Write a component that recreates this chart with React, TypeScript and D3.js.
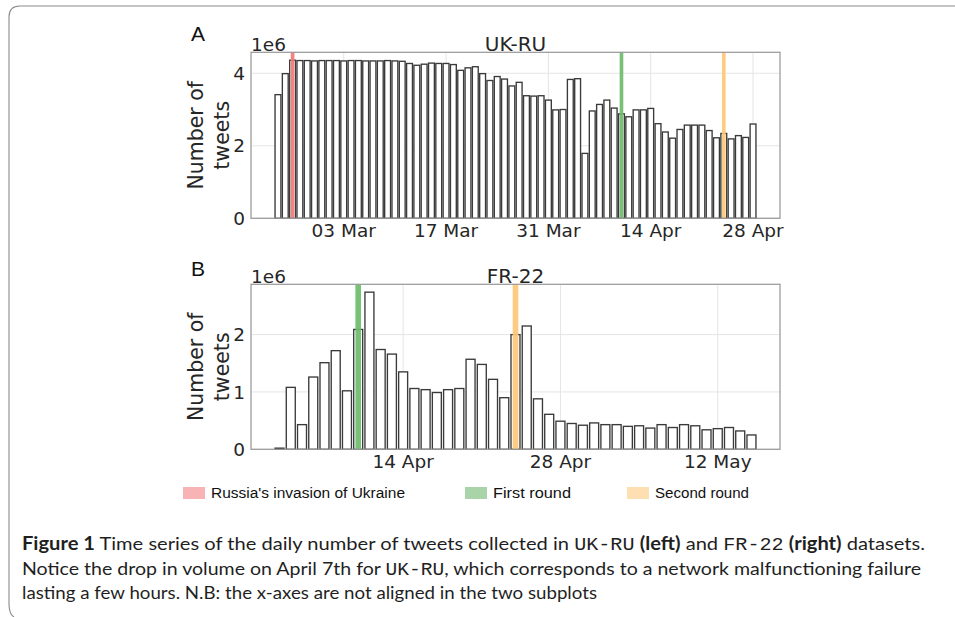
import React from "react";
import * as d3 from "d3";

// ---------- DATA (daily tweets, in millions; axis offset "1e6") ----------
const UKRU_START = "2022-02-22";
const UKRU_VALUES = [
  3.41, 3.99, 4.36, 4.35, 4.35, 4.34, 4.35, // Feb 22-28
  4.35, 4.35, 4.34, 4.35, 4.35, 4.34, 4.34, // Mar 1-7
  4.34, 4.35, 4.34, 4.33, 4.27, 4.22, 4.25, // Mar 8-14
  4.28, 4.27, 4.27, 4.24, 4.08, 4.15, 4.18, // Mar 15-21
  3.99, 3.80, 3.91, 3.84, 3.65, 3.75, 3.38, // Mar 22-28
  3.37, 3.38, 3.26, 2.99, 3.00, 3.83, 3.85, // Mar 29-Apr 4
  1.79, 2.96, 3.14, 3.26, 3.04, 2.88, 2.80, // Apr 5-11
  2.99, 2.99, 3.03, 2.61, 2.38, 2.21, 2.45, // Apr 12-18
  2.57, 2.57, 2.57, 2.42, 2.22, 2.34, 2.19, // Apr 19-25
  2.28, 2.23, 2.60, // Apr 26-28
];
const FR22_START = "2022-04-03";
const FR22_VALUES = [
  0.02, 1.08, 0.43, 1.26, 1.51, 1.72, 1.02, // Apr 3-9
  2.09, 2.74, 1.74, 1.66, 1.35, 1.06, 1.04, // Apr 10-16
  0.99, 1.04, 1.06, 1.57, 1.48, 1.22, 0.90, // Apr 17-23
  2.00, 2.15, 0.88, 0.61, 0.49, 0.45, 0.42, // Apr 24-30
  0.46, 0.43, 0.43, 0.40, 0.41, 0.37, 0.43, // May 1-7
  0.38, 0.43, 0.41, 0.34, 0.36, 0.38, 0.32, // May 8-14
  0.25, // May 15
];
const UKRU_XTICKS = ["2022-03-03", "2022-03-17", "2022-03-31", "2022-04-14", "2022-04-28"];
const FR22_XTICKS = ["2022-04-14", "2022-04-28", "2022-05-12"];
const UKRU_YTICKS = [0, 2, 4];
const FR22_YTICKS = [0, 1, 2];
const EVENT_KEYS = ["invasion", "first", "second"];
const EVENT_LABELS = ["Russia's invasion of Ukraine", "First round", "Second round"];
const EVENT_LINE_COLORS = ["#f17878", "#6cbd6c", "#fdc776"];
const EVENT_PATCH_COLORS = ["#f8b4b4", "#a9d4a9", "#fddfb1"];
const UKRU_EVENTS = [
  { key: "invasion", date: "2022-02-24" },
  { key: "first", date: "2022-04-10" },
  { key: "second", date: "2022-04-24" },
];
const FR22_EVENTS = [
  { key: "first", date: "2022-04-10" },
  { key: "second", date: "2022-04-24" },
];

// ---------- LAYOUT ----------
const W = 955;
const H = 617;
const AX_LEFT = 251;
const AX_RIGHT = 780;
const FONT = "'DejaVu Sans', sans-serif";
const TXT = "#262626";

const parse = (s: string) => new Date(s + "T00:00:00Z");
const DAY = 86400000;

type PanelProps = {
  letter: string;
  title: string;
  start: string;
  values: number[];
  xticks: string[];
  yticks: number[];
  events: { key: string; date: string }[];
  top: number;
  bottom: number;
  letterY: number;
};

function Panel(p: PanelProps) {
  const start = parse(p.start);
  const data = p.values.map((v, i) => ({ date: d3.utcDay.offset(start, i), v }));
  const barW = 0.8; // days
  const first = data[0].date.getTime() - (barW / 2) * DAY;
  const last = data[data.length - 1].date.getTime() + (barW / 2) * DAY;
  const pad = (last - first) * 0.05;
  const x = d3
    .scaleUtc()
    .domain([new Date(first - pad), new Date(last + pad)])
    .range([AX_LEFT, AX_RIGHT]);
  const ymax = (d3.max(p.values) as number) * 1.05;
  const y = d3.scaleLinear().domain([0, ymax]).range([p.bottom, p.top]);
  const fmt = d3.utcFormat("%d %b");
  const bw = (d: Date, w: number) => x(new Date(d.getTime() + (w / 2) * DAY)) - x(new Date(d.getTime() - (w / 2) * DAY));
  const cy = (p.top + p.bottom) / 2;

  return (
    <g>
      {/* grid */}
      {p.yticks.map((t) => (
        <line key={"gy" + t} x1={AX_LEFT} x2={AX_RIGHT} y1={y(t)} y2={y(t)} stroke="#e5e5e5" strokeWidth={1} />
      ))}
      {p.xticks.map((t) => (
        <line key={"gx" + t} x1={x(parse(t))} x2={x(parse(t))} y1={p.top} y2={p.bottom} stroke="#e5e5e5" strokeWidth={1} />
      ))}
      {/* bars */}
      {data.map((d, i) => (
        <rect
          key={i}
          x={x(new Date(d.date.getTime() - (barW / 2) * DAY))}
          y={y(d.v)}
          width={bw(d.date, barW)}
          height={y(0) - y(d.v)}
          fill="#ffffff"
          stroke="#3a3a3a"
          strokeWidth={1.35}
        />
      ))}
      {/* events */}
      {p.events.map((e) => {
        const d = parse(e.date);
        const idx = EVENT_KEYS.indexOf(e.key);
        return (
          <rect
            key={e.key}
            x={x(new Date(d.getTime() - 0.25 * DAY))}
            y={p.top}
            width={bw(d, 0.5)}
            height={p.bottom - p.top}
            fill={EVENT_LINE_COLORS[idx]}
            opacity={0.92}
          />
        );
      })}
      {/* frame */}
      <rect x={AX_LEFT} y={p.top} width={AX_RIGHT - AX_LEFT} height={p.bottom - p.top} fill="none" stroke="#9a9a9a" strokeWidth={1.25} />
      {/* y ticks */}
      {p.yticks.map((t) => (
        <text key={"yl" + t} x={245} y={y(t)} dy="0.36em" textAnchor="end" fontFamily={FONT} fontSize={18.5} fill={TXT}>
          {t}
        </text>
      ))}
      {/* x ticks */}
      {p.xticks.map((t) => (
        <text key={"xl" + t} x={x(parse(t))} y={p.bottom + 18.5} textAnchor="middle" fontFamily={FONT} fontSize={18.5} fill={TXT}>
          {fmt(parse(t))}
        </text>
      ))}
      <text x={AX_LEFT} y={p.top - 1.5} fontFamily={FONT} fontSize={18.5} fill={TXT}>1e6</text>
      <text x={(AX_LEFT + AX_RIGHT) / 2} y={p.top - 1.5} textAnchor="middle" fontFamily={FONT} fontSize={20} fill={TXT}>
        {p.title}
      </text>
      <text transform={`translate(203,${cy}) rotate(-90)`} textAnchor="middle" fontFamily={FONT} fontSize={20.5} fill={TXT}>
        Number of
      </text>
      <text transform={`translate(229,${cy}) rotate(-90)`} textAnchor="middle" fontFamily={FONT} fontSize={20.5} fill={TXT}>
        tweets
      </text>
      <text x={191} y={p.letterY} fontFamily="'Liberation Sans', Arial, sans-serif" fontSize={21} fill="#111">
        {p.letter}
      </text>
    </g>
  );
}

const LEGEND_PATCH_X = [183, 465, 627];
const LEGEND_TEXT_W = [194, 78, 94];

export default function App() {
  const cap = "Lato, 'Open Sans', sans-serif";
  const mono = "'Liberation Mono', 'DejaVu Sans Mono', monospace";
  return (
    <svg width={W} height={H} style={{ position: "absolute", left: 0, top: 0, background: "#fff" }}>
      <path d="M955,6 H20 Q9,6 9,17 V604 Q9,614 14,617" fill="none" stroke="#8a8a8a" strokeWidth={1.1} />
      <Panel
        letter="A"
        title="UK-RU"
        start={UKRU_START}
        values={UKRU_VALUES}
        xticks={UKRU_XTICKS}
        yticks={UKRU_YTICKS}
        events={UKRU_EVENTS}
        top={52.3}
        bottom={218.3}
        letterY={41}
      />
      <Panel
        letter="B"
        title="FR-22"
        start={FR22_START}
        values={FR22_VALUES}
        xticks={FR22_XTICKS}
        yticks={FR22_YTICKS}
        events={FR22_EVENTS}
        top={284.3}
        bottom={449.3}
        letterY={275.5}
      />
      {/* legend */}
      {EVENT_LABELS.map((lab, i) => (
        <g key={lab}>
          <rect x={LEGEND_PATCH_X[i]} y={487} width={22} height={12} fill={EVENT_PATCH_COLORS[i]} />
          <text
            x={LEGEND_PATCH_X[i] + 28}
            y={498}
            fontFamily="'Liberation Sans', Arial, sans-serif"
            fontSize={15.5}
            fill="#111"
            textLength={LEGEND_TEXT_W[i]}
            lengthAdjust="spacingAndGlyphs"
          >
            {lab}
          </text>
        </g>
      ))}
      {/* caption */}
      <g fontFamily={cap} fontSize={18} fill="#1f1f1f">
        <text x={22} y={550} textLength={903} lengthAdjust="spacingAndGlyphs">
          <tspan fontWeight="bold">Figure 1</tspan>
          {"  Time series of the daily number of tweets collected in "}
          <tspan fontFamily={mono}>UK-RU</tspan>
          {" "}
          <tspan fontWeight="bold">(left)</tspan>
          {" and "}
          <tspan fontFamily={mono}>FR-22</tspan>
          {" "}
          <tspan fontWeight="bold">(right)</tspan>
          {" datasets."}
        </text>
        <text x={22} y={574.5} textLength={899} lengthAdjust="spacingAndGlyphs">
          {"Notice the drop in volume on April 7th for "}
          <tspan fontFamily={mono}>UK-RU</tspan>
          {", which corresponds to a network malfunctioning failure"}
        </text>
        <text x={22} y={598.5} textLength={575} lengthAdjust="spacingAndGlyphs">
          lasting a few hours. N.B: the x-axes are not aligned in the two subplots
        </text>
      </g>
    </svg>
  );
}
